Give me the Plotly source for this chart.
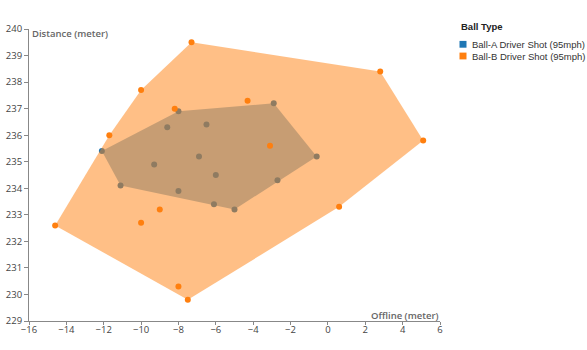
import plotly.graph_objects as go

# Ball-A Driver Shot (95mph)
a_offline = [-12.1, -8.0, -8.6, -6.5, -2.9, -9.3, -6.9, -6.0, -11.1, -8.0, -6.1, -5.0, -2.7, -0.6]
a_distance = [235.4, 236.9, 236.3, 236.4, 237.2, 234.9, 235.2, 234.5, 234.1, 233.9, 233.4, 233.2, 234.3, 235.2]

# Ball-B Driver Shot (95mph)
b_offline = [-7.3, -10.0, -11.7, -8.2, -4.3, -3.1, -14.6, -10.0, -9.0, -8.0, -7.5, 0.6, 2.8, 5.1]
b_distance = [239.5, 237.7, 236.0, 237.0, 237.3, 235.6, 232.6, 232.7, 233.2, 230.3, 229.8, 233.3, 238.4, 235.8]

series_names = ["Ball-A Driver Shot (95mph)", "Ball-B Driver Shot (95mph)"]
series_colors = ["#1f77b4", "#ff7f0e"]
legend_title = "Ball Type"
x_title = "Offline (meter)"
y_title = "Distance (meter)"

W, H = 587, 350
ML, MR, MT, MB = 29, 147, 29, 29
PW, PH = W - ML - MR, H - MT - MB


def px_x(px):
    return (px - ML) / PW


def px_y(py):
    return (H - MB - py) / PH


def convex_hull(xs, ys):
    pts = sorted(set(zip(xs, ys)))
    if len(pts) < 3:
        return pts

    def cross(o, a, b):
        return (a[0] - o[0]) * (b[1] - o[1]) - (a[1] - o[1]) * (b[0] - o[0])

    lower = []
    for p in pts:
        while len(lower) >= 2 and cross(lower[-2], lower[-1], p) <= 0:
            lower.pop()
        lower.append(p)
    upper = []
    for p in reversed(pts):
        while len(upper) >= 2 and cross(upper[-2], upper[-1], p) <= 0:
            upper.pop()
        upper.append(p)
    return lower[:-1] + upper[:-1]


def rgba(hex_color, a):
    h = hex_color.lstrip("#")
    r, g, b = int(h[0:2], 16), int(h[2:4], 16), int(h[4:6], 16)
    return f"rgba({r},{g},{b},{a})"


fig = go.Figure()
for xs, ys, name, color in [
    (a_offline, a_distance, series_names[0], series_colors[0]),
    (b_offline, b_distance, series_names[1], series_colors[1]),
]:
    hull = convex_hull(xs, ys)
    hx = [p[0] for p in hull] + [hull[0][0]]
    hy = [p[1] for p in hull] + [hull[0][1]]
    fig.add_trace(go.Scatter(
        x=hx, y=hy, mode="lines", fill="toself",
        fillcolor=rgba(color, 0.5), line=dict(width=0, color=rgba(color, 0)),
        showlegend=False, hoverinfo="skip",
    ))
    fig.add_trace(go.Scatter(
        x=xs, y=ys, mode="markers", name=name,
        marker=dict(color=color, size=6),
        showlegend=False,
    ))

tick_font = dict(family="Open Sans, sans-serif", size=9.5, color="#444")
title_font = dict(family="Open Sans, sans-serif", size=9.5, color="#666", weight=600)
legend_font = dict(family="Liberation Sans, Arial, sans-serif", size=9.5, color="#333")

shapes = []
annotations = [
    dict(text=y_title, xref="paper", yref="paper",
         x=px_x(30), y=px_y(33.5), xanchor="left", yanchor="middle",
         showarrow=False, font=title_font),
    dict(text=x_title, xref="paper", yref="paper",
         x=px_x(441), y=px_y(315), xanchor="right", yanchor="middle",
         showarrow=False, font=title_font),
    dict(text="<b>" + legend_title + "</b>", xref="paper", yref="paper",
         x=px_x(459), y=px_y(26.5), xanchor="left", yanchor="middle",
         showarrow=False,
         font=dict(family="Liberation Sans, Arial, sans-serif", size=9.5, color="#222")),
]
for i, (name, color) in enumerate(zip(series_names, series_colors)):
    cy = 44.3 + i * 11.7
    shapes.append(dict(type="rect", xref="paper", yref="paper",
                       x0=px_x(459.5), x1=px_x(466.5),
                       y0=px_y(cy - 3.4), y1=px_y(cy + 3.4),
                       fillcolor=color, line=dict(width=0)))
    annotations.append(dict(text=name, xref="paper", yref="paper",
                            x=px_x(469.5), y=px_y(cy), xanchor="left", yanchor="middle",
                            showarrow=False, font=legend_font))

fig.update_layout(
    width=W, height=H,
    margin=dict(l=ML, r=MR, t=MT, b=MB, autoexpand=False),
    plot_bgcolor="white", paper_bgcolor="white",
    showlegend=False,
    font=dict(family="Open Sans, sans-serif", size=10, color="#444"),
    xaxis=dict(range=[-16, 6], dtick=2, tick0=-16, showgrid=False, zeroline=False,
               showline=True, linecolor="#888", linewidth=1, ticks="outside",
               ticklen=3, tickcolor="#888", tickfont=tick_font, ticklabelstandoff=-3),
    yaxis=dict(range=[229, 240], dtick=1, showgrid=False, zeroline=False,
               showline=True, linecolor="#888", linewidth=1, ticks="outside",
               ticklen=4, tickcolor="#888", tickfont=tick_font),
    shapes=shapes,
    annotations=annotations,
)

fig.write_html("out.html")
